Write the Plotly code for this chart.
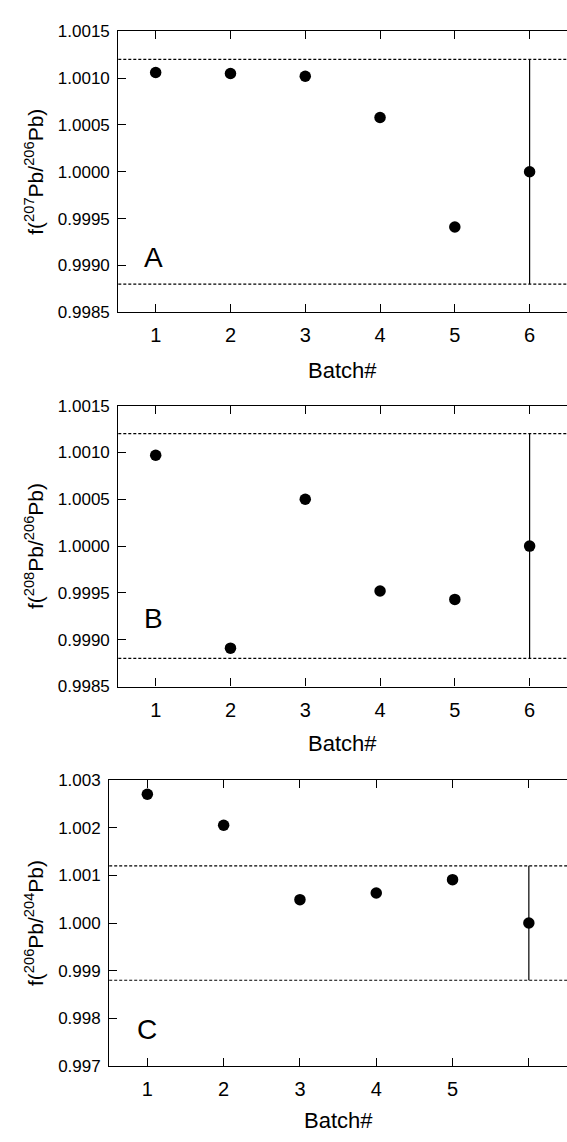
import plotly.graph_objects as go

# Batch numbers and normalised isotope-ratio factors
batch = [1, 2, 3, 4, 5, 6]
f207_206 = [1.00106, 1.00105, 1.00102, 1.00058, 0.99941, 1.00000]
f208_206 = [1.00097, 0.99891, 1.00050, 0.99952, 0.99943, 1.00000]
f206_204 = [1.00270, 1.00205, 1.00049, 1.00063, 1.00091, 1.00000]
# Uncertainty shown on the reference batch only
err_207 = [0, 0, 0, 0, 0, 0.0012]
err_208 = [0, 0, 0, 0, 0, 0.0012]
err_204 = [0, 0, 0, 0, 0, 0.0012]
# Acceptance limits (dotted lines)
limits = [0.9988, 1.0012]

panel_letters = ["A", "B", "C"]
y_titles = ["f(<sup>207</sup>Pb/<sup>206</sup>Pb)",
            "f(<sup>208</sup>Pb/<sup>206</sup>Pb)",
            "f(<sup>206</sup>Pb/<sup>204</sup>Pb)"]
x_ticktext_ab = ["1", "2", "3", "4", "5", "6"]
x_ticktext_c = ["1", "2", "3", "4", "5", ""]
y_ticks_ab = [0.9985, 0.9990, 0.9995, 1.0000, 1.0005, 1.0010, 1.0015]
y_ticks_c = [0.997, 0.998, 0.999, 1.000, 1.001, 1.002, 1.003]

W, H = 567, 1142
FONT = "Liberation Sans, Arial, sans-serif"

panels = [
    dict(y=f207_206, err=err_207, ticks=y_ticks_ab, fmt=".4f", xtext=x_ticktext_ab,
         xdom=(118.3, 567), ydom=(22.7, 308.3), letter_xy=(0.97, 0.99908), xtitle_y=367.5),
    dict(y=f208_206, err=err_208, ticks=y_ticks_ab, fmt=".4f", xtext=x_ticktext_ab,
         xdom=(118.3, 567), ydom=(403.3, 689.0), letter_xy=(0.97, 0.999225), xtitle_y=747),
    dict(y=f206_204, err=err_204, ticks=y_ticks_c, fmt=".3f", xtext=x_ticktext_c,
         xdom=(109.2, 567), ydom=(784.0, 1075.0), letter_xy=(0.99, 0.99776), xtitle_y=1130),
]

fig = go.Figure()
layout = dict(width=W, height=H, autosize=False,
              margin=dict(l=0, r=0, t=0, b=0, pad=0),
              paper_bgcolor="white", plot_bgcolor="white",
              showlegend=False, font=dict(family=FONT, color="black"))
annotations = []
shapes = []

for i, p in enumerate(panels, start=1):
    xs = "" if i == 1 else str(i)
    xname, yname = "x" + xs, "y" + xs

    fig.add_trace(go.Scatter(
        x=batch, y=p["y"], mode="markers", xaxis=xname, yaxis=yname,
        marker=dict(symbol="circle", size=11.5, color="black"),
        error_y=dict(type="data", array=p["err"], visible=True,
                     color="black", thickness=1.2, width=0),
    ))

    yr = [p["ticks"][0], p["ticks"][-1]]
    ydomain = [1 - p["ydom"][1] / H, 1 - p["ydom"][0] / H]
    xdomain = [p["xdom"][0] / W, p["xdom"][1] / W]

    layout["xaxis" + xs] = dict(
        domain=xdomain, anchor=yname, range=[0.5, 6.5],
        tickvals=batch, ticktext=p["xtext"], ticks="inside", ticklen=8,
        tickwidth=1.2, tickcolor="black", showline=True, linecolor="black",
        linewidth=1.2, mirror="ticks", showgrid=False, zeroline=False,
        tickfont=dict(size=20, family=FONT, color="black"), ticklabelstandoff=5,
    )
    layout["yaxis" + xs] = dict(
        domain=ydomain, anchor=xname, range=yr,
        tickvals=p["ticks"], tickformat=p["fmt"], ticks="inside", ticklen=8,
        tickwidth=1.2, tickcolor="black", showline=True, linecolor="black",
        linewidth=1.2, mirror=False, showgrid=False, zeroline=False,
        tickfont=dict(size=17, family=FONT, color="black"), ticklabelstandoff=4,
    )
    # right-hand inward ticks without a frame line
    layout["yaxis" + str(i + 3)] = dict(
        overlaying=yname, anchor=xname, side="right", range=yr,
        tickvals=p["ticks"], ticks="inside", ticklen=7, tickwidth=1.2,
        tickcolor="black", showline=False, showticklabels=False,
        showgrid=False, zeroline=False,
    )

    for lim in limits:
        shapes.append(dict(type="line", xref=xname + " domain", yref=yname,
                           x0=0, x1=1, y0=lim, y1=lim,
                           line=dict(color="black", width=1.2, dash="3px,2px")))

    annotations.append(dict(text=panel_letters[i - 1], xref=xname, yref=yname,
                            x=p["letter_xy"][0], y=p["letter_xy"][1],
                            showarrow=False, xanchor="center", yanchor="middle",
                            font=dict(size=28, family=FONT, color="black")))
    annotations.append(dict(text=y_titles[i - 1], xref="paper", yref="paper",
                            x=34 / W, y=sum(ydomain) / 2, textangle=-90,
                            showarrow=False, xanchor="center", yanchor="middle",
                            font=dict(size=21, family=FONT, color="black")))
    annotations.append(dict(text="Batch#", xref="paper", yref="paper",
                            x=sum(xdomain) / 2, y=1 - p["xtitle_y"] / H,
                            showarrow=False, xanchor="center", yanchor="middle",
                            font=dict(size=22, family=FONT, color="black")))

layout["annotations"] = annotations
layout["shapes"] = shapes
fig.update_layout(**layout)
fig.write_html("out.html")
